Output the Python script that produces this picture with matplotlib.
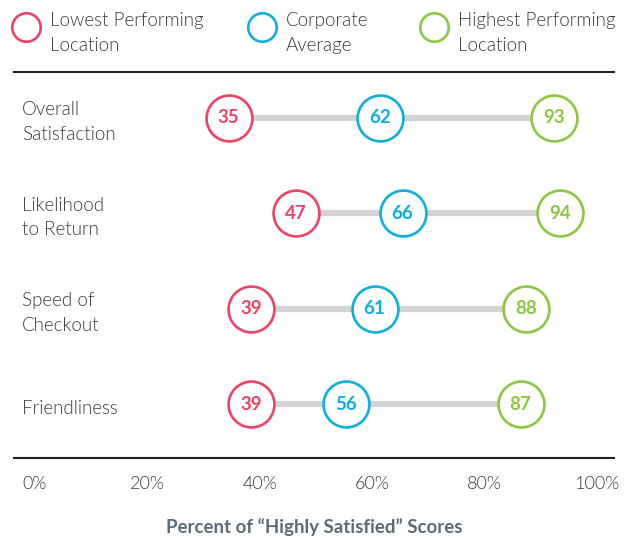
import matplotlib.pyplot as plt
from matplotlib.transforms import ScaledTranslation

categories = ['Overall\nSatisfaction', 'Likelihood\nto Return', 'Speed of\nCheckout', 'Friendliness']
lowest = [35, 47, 39, 39]
average = [62, 66, 61, 56]
highest = [93, 94, 88, 87]
series_names = ['Lowest Performing\nLocation', 'Corporate\nAverage', 'Highest Performing\nLocation']
tick_values = [0, 20, 40, 60, 80, 100]
tick_labels = ['0%', '20%', '40%', '60%', '80%', '100%']
axis_title = 'Percent of \u201cHighly Satisfied\u201d Scores'

RED = '#ee4266'
BLUE = '#0bb0dc'
GREEN = '#8dc63f'
TEXT = '#3a3a3a'
LIGHT = 300

plt.rcParams['font.family'] = ['Lato', 'DejaVu Sans']

fig = plt.figure(figsize=(6.28, 5.40), dpi=100)
W, H = 628, 540

# main plot area: black rules at y=72 and y=458, x from 14 to 614
ax = fig.add_axes([14 / W, (H - 458) / H, 600 / W, 386 / H])
ax.set_xlim(-3.2, 103.65)
ax.set_ylim(3.564, -0.482)

rows = list(range(len(categories)))
ax.hlines(rows, lowest, highest, color='#d3d3d3', lw=4.5, zorder=1)

for vals, col in [(lowest, RED), (average, BLUE), (highest, GREEN)]:
    ax.scatter(vals, rows, s=1090, facecolor='white', edgecolor=col, lw=1.9, zorder=3)
    for v, r in zip(vals, rows):
        ax.text(v, r, str(v), ha='center', va='center', color=col,
                fontsize=13.5, fontweight='bold', zorder=4)

down = ScaledTranslation(0, -4 / 100, fig.dpi_scale_trans)
for r, c in zip(rows, categories):
    ax.text(8 / 600, r, c, transform=ax.get_yaxis_transform() + down, ha='left', va='center',
            fontsize=13.5, color=TEXT, linespacing=1.55, fontweight=LIGHT)

for side in ['left', 'right']:
    ax.spines[side].set_visible(False)
for side in ['top', 'bottom']:
    ax.spines[side].set_linewidth(1.5)
    ax.spines[side].set_color('#222222')

ax.set_yticks([])
ax.set_xticks(tick_values)
ax.set_xticklabels(tick_labels, fontsize=13, color=TEXT, fontweight=LIGHT)
ax.tick_params(axis='x', length=0, pad=13)
shift = ScaledTranslation(3 / 100, 0, fig.dpi_scale_trans)
for lbl in ax.get_xticklabels():
    lbl.set_transform(lbl.get_transform() + shift)
ax.set_xlabel(axis_title, fontsize=13.5, fontweight='bold', color='#5e6b73', labelpad=19)

# legend drawn in pixel coordinates
lg = fig.add_axes([0, 0, 1, 1], facecolor='none')
lg.set_xlim(0, W)
lg.set_ylim(H, 0)
lg.axis('off')
legend_x = [26, 262, 434]
for name, col, x in zip(series_names, [RED, BLUE, GREEN], legend_x):
    lg.scatter([x], [27], s=420, facecolor='white', edgecolor=col, lw=1.9)
    lg.text(x + 24, 33, name, ha='left', va='center', fontsize=13.5, color=TEXT,
            linespacing=1.55, fontweight=LIGHT)

fig.savefig('out.png', dpi=100)
